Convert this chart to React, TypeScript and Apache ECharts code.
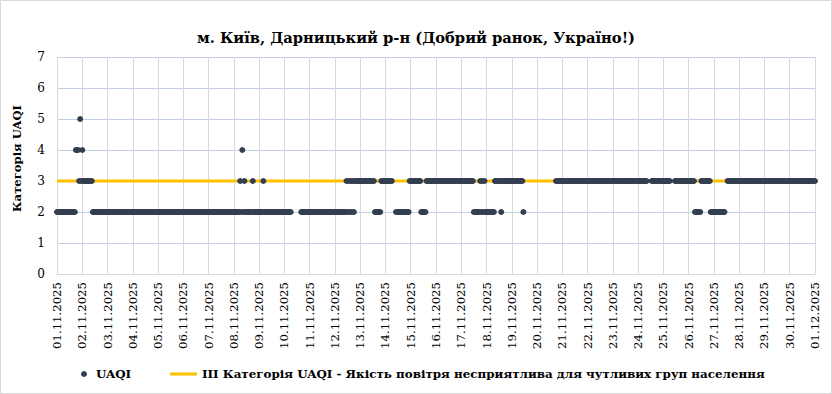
import React, { useEffect, useRef } from "react";
import * as echarts from "echarts";

const TITLE = "м. Київ, Дарницький р-н (Добрий ранок, Україно!)";
const Y_NAME = "Категорія UAQI";
const SERIES_POINTS = "UAQI";
const SERIES_LINE =
  "III Категорія UAQI - Якість повітря несприятлива для чутливих груп населення";

const DATE_LABELS = [
  "01.11.2025", "02.11.2025", "03.11.2025", "04.11.2025", "05.11.2025",
  "06.11.2025", "07.11.2025", "08.11.2025", "09.11.2025", "10.11.2025",
  "11.11.2025", "12.11.2025", "13.11.2025", "14.11.2025", "15.11.2025",
  "16.11.2025", "17.11.2025", "18.11.2025", "19.11.2025", "20.11.2025",
  "21.11.2025", "22.11.2025", "23.11.2025", "24.11.2025", "25.11.2025",
  "26.11.2025", "27.11.2025", "28.11.2025", "29.11.2025", "30.11.2025",
  "01.12.2025",
];

const HOURS_PER_DAY = 24;

// Hourly UAQI category per day, one character per hour ("." = no data)
const UAQI_BY_DAY = [
  "222222222222222222444353", // 01.11
  "433333333322222222222222", // 02.11
  "222222222222222222222222", // 03.11
  "222222222222222222222222", // 04.11
  "222222222222222222222222", // 05.11
  "222222222222222222222222", // 06.11
  "222222222222222222222222", // 07.11
  "222222324232222222322222", // 08.11
  "222232222222222222222222", // 09.11
  "2222222.........22222222", // 10.11
  "222222222222222222222222", // 11.11
  "222222222223232323233333", // 12.11
  "333333333333332222223333", // 13.11
  "3333333...22222222222223", // 14.11
  "333333333322222333333333", // 15.11
  "333333333333333333333333", // 16.11
  "333333333333222222323232", // 17.11
  "222222223333332333333333", // 18.11
  "333333333332............", // 19.11
  "..................333333", // 20.11
  "333333333333333333333333", // 21.11
  "333333333333333333333333", // 22.11
  "333333333333333333333333", // 23.11
  "333333333....33333333333", // 24.11
  "3333333....3333333333333", // 25.11
  "333333222222333333333222", // 26.11
  "22222222222..33333333333", // 27.11
  "333333333333333333333333", // 28.11
  "333333333333333333333333", // 29.11
  "333333333333333333333333", // 30.11
  "3", // 01.12
];

const THRESHOLD_VALUE = 3;
const Y_MIN = 0;
const Y_MAX = 7;
const Y_INTERVAL = 1;

const FONT = "DejaVu Serif";

export default function App() {
  const ref = useRef<HTMLDivElement>(null);

  useEffect(() => {
    if (!ref.current) return;
    const chart = echarts.init(ref.current, null, { renderer: "svg" });

    const points: [number, number][] = [];
    UAQI_BY_DAY.forEach((day, d) => {
      for (let i = 0; i < day.length; i++) {
        const c = day[i];
        if (c !== ".") points.push([d * HOURS_PER_DAY + i, Number(c)]);
      }
    });
    const xMax = (DATE_LABELS.length - 1) * HOURS_PER_DAY;

    const legendText = {
      fontFamily: FONT,
      fontSize: 11.9,
      fontWeight: "bold",
      color: "#000",
    };

    chart.setOption({
      animation: false,
      backgroundColor: "#ffffff",
      textStyle: { fontFamily: FONT, color: "#000" },
      title: {
        text: TITLE,
        left: "center",
        top: 25,
        textStyle: {
          fontFamily: FONT,
          fontSize: 14.7,
          fontWeight: "bold",
          color: "#000",
        },
      },
      graphic: [
        {
          type: "rect",
          shape: { x: 0.5, y: 0.5, width: 831, height: 393 },
          style: { fill: "none", stroke: "#d9d9d9", lineWidth: 1 },
          silent: true,
        },
      ],
      grid: { left: 57, right: 17, top: 57, bottom: 120 },
      legend: [
        {
          data: [{ name: SERIES_POINTS, icon: "circle" }],
          left: 81,
          top: 368,
          padding: 0,
          itemWidth: 14,
          itemHeight: 6,
          textStyle: legendText,
        },
        {
          data: [{ name: SERIES_LINE, icon: "rect" }],
          left: 170,
          top: 368,
          padding: 0,
          itemWidth: 27,
          itemHeight: 3,
          textStyle: legendText,
        },
      ],
      xAxis: {
        type: "value",
        min: 0,
        max: xMax,
        interval: HOURS_PER_DAY,
        axisLine: { show: true, lineStyle: { color: "#d9d9d9" } },
        axisTick: { show: false },
        splitLine: { show: true, lineStyle: { color: "#d9d9d9", width: 1 } },
        axisLabel: {
          rotate: 90,
          margin: 8,
          fontFamily: FONT,
          fontSize: 11.7,
          color: "#000",
          showMinLabel: true,
          showMaxLabel: true,
          formatter: (v: number) => DATE_LABELS[Math.round(v / HOURS_PER_DAY)] ?? "",
        },
      },
      yAxis: {
        type: "value",
        min: Y_MIN,
        max: Y_MAX,
        interval: Y_INTERVAL,
        name: Y_NAME,
        nameLocation: "middle",
        nameGap: 34,
        nameTextStyle: {
          fontFamily: FONT,
          fontSize: 11.6,
          fontWeight: "bold",
          color: "#000",
          padding: [0, 0, 0, 14],
        },
        axisLine: { show: false },
        axisTick: { show: false },
        splitLine: { show: true, lineStyle: { color: "#c3cfe0", width: 1 } },
        axisLabel: {
          margin: 12,
          fontFamily: FONT,
          fontSize: 12,
          color: "#000",
        },
      },
      series: [
        {
          name: SERIES_LINE,
          type: "line",
          data: [
            [0, THRESHOLD_VALUE],
            [xMax, THRESHOLD_VALUE],
          ],
          symbol: "none",
          lineStyle: { color: "#ffc000", width: 3 },
          itemStyle: { color: "#ffc000" },
          z: 1,
        },
        {
          name: SERIES_POINTS,
          type: "scatter",
          data: points,
          symbol: "circle",
          symbolSize: 6,
          clip: false,
          itemStyle: { color: "#333f50", opacity: 1 },
          z: 2,
        },
      ],
    });

    return () => chart.dispose();
  }, []);

  return (
    <div
      ref={ref}
      style={{ position: "absolute", left: 0, top: 0, width: 832, height: 394 }}
    />
  );
}
